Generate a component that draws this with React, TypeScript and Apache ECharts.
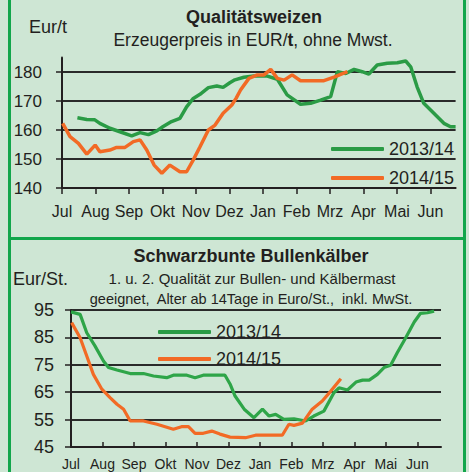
import React, { useEffect, useRef } from "react";
import * as echarts from "echarts";

const monthLabels = ["Jul", "Aug", "Sep", "Okt", "Nov", "Dez", "Jan", "Feb", "Mrz", "Apr", "Mai", "Jun"];
const seasonNames = ["2013/14", "2014/15"];

// Qualitätsweizen (EUR/t), x = months since start of July
const weizenX1314 = [0.46, 0.74, 0.98, 1.13, 1.43, 1.73, 2.08, 2.33, 2.58, 2.83, 3.02, 3.27, 3.52, 3.72, 3.92, 4.12, 4.37, 4.62, 4.81, 5.01, 5.16, 5.43, 5.73, 6.13, 6.43, 6.72, 7.12, 7.42, 7.72, 8.02, 8.22, 8.47, 8.72, 8.96, 9.16, 9.41, 9.71, 10.01, 10.26, 10.41, 10.6, 10.8, 11.1, 11.4, 11.6, 11.75];
const weizenY1314 = [164.2, 163.6, 163.5, 162.3, 160.6, 159.4, 158, 159.1, 158.4, 159.7, 161.2, 162.9, 164, 168, 170.9, 172.3, 174.6, 175.2, 174.7, 176.3, 177.3, 178.2, 178.6, 178.6, 177.5, 172.1, 168.9, 169.2, 170.3, 171.5, 180.1, 179.5, 180.9, 180.1, 179.3, 182.4, 183, 183.2, 183.8, 181.8, 174.9, 169.2, 165.8, 162.3, 161.1, 161.1];
const weizenX1415 = [0.02, 0.24, 0.49, 0.74, 0.99, 1.13, 1.43, 1.63, 1.88, 2.13, 2.33, 2.53, 2.75, 2.98, 3.22, 3.52, 3.72, 3.92, 4.12, 4.37, 4.57, 4.81, 5.07, 5.2, 5.33, 5.58, 5.83, 6.03, 6.23, 6.43, 6.63, 6.87, 7.12, 7.42, 7.82, 8.12, 8.52];
const weizenY1415 = [162.3, 157.7, 155.4, 151.7, 154.8, 152.5, 153.1, 154, 154, 156, 156.6, 153.1, 147.9, 145.1, 147.9, 145.6, 145.6, 149.7, 154.2, 160, 161.7, 165.8, 168.6, 171, 173.8, 177.8, 179, 179, 180.9, 177.8, 177.2, 179, 177, 177, 177, 178.2, 180.1];

// Schwarzbunte Bullenkälber (Eur/St.)
const kaelberX1314 = [0, 0.29, 0.5, 0.76, 1.03, 1.19, 1.46, 1.88, 2.3, 2.62, 3.04, 3.25, 3.68, 3.94, 4.2, 4.52, 4.89, 5.05, 5.21, 5.5, 5.81, 6.08, 6.29, 6.5, 6.76, 7.08, 7.45, 7.71, 8.03, 8.35, 8.51, 8.78, 9.05, 9.26, 9.47, 9.73, 9.94, 10.15, 10.36, 10.63, 10.9, 11.1, 11.32, 11.53];
const kaelberY1314 = [94.3, 93.4, 86.7, 81.9, 76.4, 74, 73.1, 71.8, 71.8, 70.9, 70.3, 71.2, 71.2, 70.3, 71.2, 71.2, 71.2, 68, 63.6, 58.8, 55.7, 58.8, 56.3, 56.9, 55.1, 55.3, 54.5, 56.3, 58.1, 64.8, 66.6, 65.8, 68.7, 69.4, 69.4, 71.5, 74, 74.8, 79.4, 84.9, 90.6, 93.8, 94, 94.6];
const kaelberX1415 = [0.02, 0.29, 0.5, 0.71, 0.98, 1.24, 1.46, 1.67, 1.88, 2.3, 2.73, 3.25, 3.51, 3.73, 3.94, 4.2, 4.47, 4.73, 5.05, 5.54, 5.86, 6.23, 6.71, 6.92, 7.08, 7.35, 7.66, 7.98, 8.25, 8.57];
const kaelberY1415 = [90.4, 84.9, 78.2, 71.5, 66.1, 63, 60.6, 58.8, 54.5, 54.5, 53.3, 51.5, 52.4, 52.4, 50, 50, 50.8, 49.7, 48.6, 48.4, 49.3, 49.3, 49.3, 53.3, 52.9, 53.7, 58.8, 61.8, 65.4, 69.9];

const FONT = "'Liberation Sans', Arial, Helvetica, sans-serif";
const TXT = "#231f20";
const GREEN = "#2ea548";
const ORANGE = "#f26a25";
const BORDER = "#12a64b";
const BG = "#cee6d4";

const pairs = (xs: number[], ys: number[]) => xs.map((x, i) => [x, ys[i]]);

export default function App() {
  const ref = useRef<HTMLDivElement>(null);
  useEffect(() => {
    if (!ref.current) return;
    const chart = echarts.init(ref.current, undefined, { renderer: "svg" });
    const monthFmt = (v: number) => (Number.isInteger(v) && monthLabels[v] ? monthLabels[v] : "");
    const axisLine = { show: true, lineStyle: { color: TXT, width: 2 } };
    const text = (x: number, y: number, t: string, size: number, bold = false, align = "center", rich?: any) => ({
      type: "text",
      x,
      y,
      style: {
        text: t,
        align,
        verticalAlign: "middle",
        fontSize: size,
        fontWeight: bold ? "bold" : "normal",
        fontFamily: FONT,
        fill: TXT,
        rich,
      },
    });
    const legendText = { fontSize: 18, color: TXT, lineHeight: 20, fontFamily: FONT };
    chart.setOption({
      animation: false,
      backgroundColor: BG,
      textStyle: { fontFamily: FONT },
      grid: [
        { left: 62, top: 57.5, width: 393.6, height: 130.5 },
        { left: 71, top: 310, width: 370, height: 137 },
      ],
      xAxis: [
        {
          type: "value",
          gridIndex: 0,
          min: 0,
          max: 11.75,
          interval: 1,
          axisLine,
          axisTick: { show: true, inside: false, length: 6, lineStyle: { color: TXT, width: 1.5 } },
          axisLabel: { formatter: monthFmt, fontSize: 16, margin: 15, color: TXT, showMaxLabel: false, fontFamily: FONT },
          splitLine: { show: false },
        },
        {
          type: "value",
          gridIndex: 1,
          min: 0,
          max: 11.75,
          interval: 1,
          axisLine,
          axisTick: { show: true, inside: true, length: 5, lineStyle: { color: TXT, width: 1.5 } },
          axisLabel: { formatter: monthFmt, fontSize: 14, margin: 10, color: TXT, showMaxLabel: false, fontFamily: FONT },
          splitLine: { show: false },
        },
      ],
      yAxis: [
        {
          type: "value",
          gridIndex: 0,
          min: 140,
          max: 185,
          interval: 10,
          axisLine,
          axisTick: { show: true, length: 6, lineStyle: { color: TXT, width: 1.5 } },
          axisLabel: { fontSize: 17, margin: 20, color: TXT, showMaxLabel: false, fontFamily: FONT },
          splitLine: { show: true, showMaxLine: false, lineStyle: { color: "#2a2a2a", width: 2 } },
        },
        {
          type: "value",
          gridIndex: 1,
          min: 45,
          max: 95,
          interval: 10,
          axisLine,
          axisTick: { show: true, length: 6, lineStyle: { color: TXT, width: 1.5 } },
          axisLabel: { fontSize: 18, margin: 17, color: TXT, fontFamily: FONT },
          splitLine: { show: true, lineStyle: { color: "#2a2a2a", width: 2 } },
        },
      ],
      legend: [
        {
          data: seasonNames,
          orient: "vertical",
          left: 326,
          top: 134,
          itemWidth: 53,
          itemHeight: 4,
          itemGap: 9,
          icon: "roundRect",
          textStyle: legendText,
        },
        {
          data: seasonNames,
          orient: "vertical",
          left: 153,
          top: 317,
          itemWidth: 53,
          itemHeight: 4,
          itemGap: 7,
          icon: "roundRect",
          textStyle: legendText,
        },
      ],
      series: [
        { name: seasonNames[0], type: "line", xAxisIndex: 0, yAxisIndex: 0, data: pairs(weizenX1314, weizenY1314), symbol: "none", color: "#2a9b45", lineStyle: { width: 3.5, color: "#2a9b45" }, clip: false },
        { name: seasonNames[1], type: "line", xAxisIndex: 0, yAxisIndex: 0, data: pairs(weizenX1415, weizenY1415), symbol: "none", color: ORANGE, lineStyle: { width: 3.5, color: ORANGE }, clip: false },
        { name: seasonNames[0], type: "line", xAxisIndex: 1, yAxisIndex: 1, data: pairs(kaelberX1314, kaelberY1314), symbol: "none", color: GREEN, lineStyle: { width: 3.2, color: GREEN }, clip: false },
        { name: seasonNames[1], type: "line", xAxisIndex: 1, yAxisIndex: 1, data: pairs(kaelberX1415, kaelberY1415), symbol: "none", color: ORANGE, lineStyle: { width: 3.2, color: ORANGE }, clip: false },
      ],
      graphic: [
        { type: "rect", shape: { x: 8, y: 0, width: 3, height: 472 }, style: { fill: BORDER } },
        { type: "rect", shape: { x: 463, y: 0, width: 3, height: 472 }, style: { fill: BORDER } },
        { type: "rect", shape: { x: 8, y: 237, width: 458, height: 3 }, style: { fill: BORDER } },
        text(254, 17, "Qualitätsweizen", 18, true),
        text(253, 40, "Erzeugerpreis in EUR/{b|t}, ohne Mwst.", 17.5, false, "center", {
          b: { fontWeight: "bold", fontSize: 17.5, fontFamily: FONT, fill: TXT },
        }),
        text(29, 27, "Eur/t", 18, false, "left"),
        text(251, 256, "Schwarzbunte Bullenkälber", 18, true),
        text(252, 278, "1. u. 2. Qualität zur Bullen- und Kälbermast", 15),
        text(251, 299, "geeignet,  Alter ab 14Tage in Euro/St.,  inkl. MwSt.", 14.5),
        text(13, 279, "Eur/St.", 18, false, "left"),
      ],
    });
    return () => chart.dispose();
  }, []);
  return <div ref={ref} style={{ position: "fixed", left: 0, top: 0, width: 469, height: 472 }} />;
}
